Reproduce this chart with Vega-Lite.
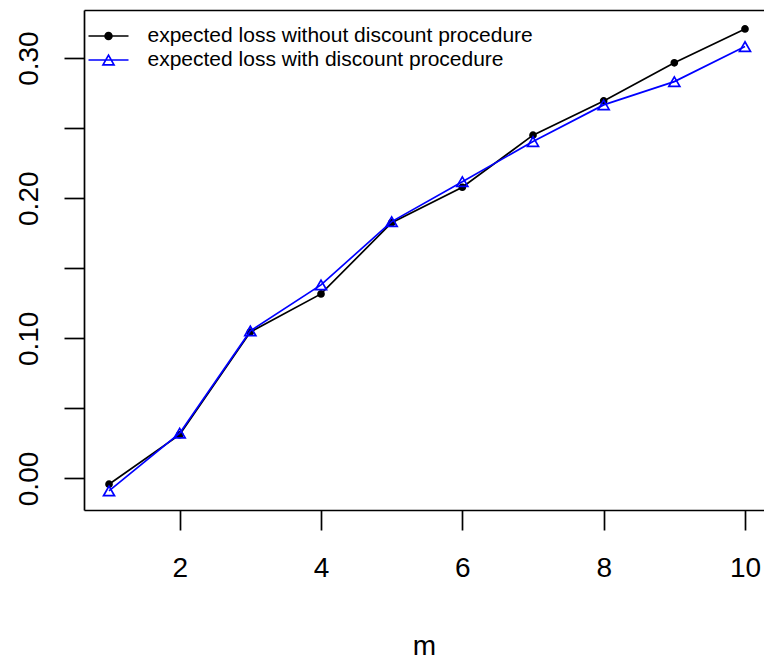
{
  "$schema": "https://vega.github.io/schema/vega-lite/v6.json",
  "width": 680,
  "height": 500,
  "autosize": {"type": "none"},
  "padding": {"left": 84, "top": 10, "right": 0, "bottom": 152},
  "background": "white",
  "config": {
    "view": {"stroke": null},
    "axis": {
      "grid": false,
      "domainColor": "#000000",
      "domainWidth": 1.7,
      "tickColor": "#000000",
      "tickWidth": 1.7,
      "tickSize": 20,
      "labelFont": "Liberation Sans",
      "labelFontSize": 28,
      "labelColor": "#000000",
      "titleFont": "Liberation Sans",
      "titleFontSize": 28,
      "titleFontWeight": "normal",
      "titleColor": "#000000"
    }
  },
  "data": {
    "values": [
      {"m": 1, "series": "expected loss without discount procedure", "loss": -0.0041},
      {"m": 2, "series": "expected loss without discount procedure", "loss": 0.0312},
      {"m": 3, "series": "expected loss without discount procedure", "loss": 0.1045},
      {"m": 4, "series": "expected loss without discount procedure", "loss": 0.1317},
      {"m": 5, "series": "expected loss without discount procedure", "loss": 0.1825},
      {"m": 6, "series": "expected loss without discount procedure", "loss": 0.2078},
      {"m": 7, "series": "expected loss without discount procedure", "loss": 0.245},
      {"m": 8, "series": "expected loss without discount procedure", "loss": 0.2694},
      {"m": 9, "series": "expected loss without discount procedure", "loss": 0.2966},
      {"m": 10, "series": "expected loss without discount procedure", "loss": 0.3208},
      {"m": 1, "series": "expected loss with discount procedure", "loss": -0.0089},
      {"m": 2, "series": "expected loss with discount procedure", "loss": 0.0323},
      {"m": 3, "series": "expected loss with discount procedure", "loss": 0.1053},
      {"m": 4, "series": "expected loss with discount procedure", "loss": 0.1381},
      {"m": 5, "series": "expected loss with discount procedure", "loss": 0.1833},
      {"m": 6, "series": "expected loss with discount procedure", "loss": 0.2118},
      {"m": 7, "series": "expected loss with discount procedure", "loss": 0.2404},
      {"m": 8, "series": "expected loss with discount procedure", "loss": 0.2666},
      {"m": 9, "series": "expected loss with discount procedure", "loss": 0.2832},
      {"m": 10, "series": "expected loss with discount procedure", "loss": 0.3082}
    ]
  },
  "encoding": {
    "x": {
      "field": "m",
      "type": "quantitative",
      "scale": {"domain": [0.646, 10.269], "nice": false, "zero": false},
      "axis": {
        "orient": "bottom",
        "values": [2, 4, 6, 8, 10],
        "title": "m",
        "labelPadding": 24,
        "titlePadding": 50,
        "labelFlush": false,
        "labelOverlap": false
      }
    },
    "y": {
      "field": "loss",
      "type": "quantitative",
      "scale": {"domain": [-0.0225, 0.3343], "nice": false, "zero": false},
      "axis": {
        "title": null,
        "values": [0, 0.05, 0.1, 0.15, 0.2, 0.25, 0.3],
        "labelExpr": "round(datum.value*20) % 2 == 0 ? format(datum.value, '.2f') : ''",
        "labelAngle": 270,
        "labelAlign": "center",
        "labelBaseline": "alphabetic",
        "labelPadding": 27,
        "labelFlush": false,
        "labelOverlap": false
      }
    },
    "color": {
      "field": "series",
      "type": "nominal",
      "scale": {
        "domain": ["expected loss without discount procedure", "expected loss with discount procedure"],
        "range": ["#000000", "#0000ff"]
      },
      "legend": {
        "orient": "none",
        "legendX": 3.5,
        "legendY": 14,
        "title": null,
        "padding": 0,
        "rowPadding": 0,
        "clipHeight": 24,
        "symbolSize": 1600,
        "symbolStrokeWidth": 1.7,
        "labelFont": "Liberation Sans",
        "labelFontSize": 21,
        "labelColor": "#000000",
        "labelOffset": 18,
        "labelLimit": 0,
        "encode": {
          "symbols": {
            "update": {
              "shape": {"signal": "datum.value === 'expected loss without discount procedure' ? 'M-1,0L1,0M0.17,0A0.17,0.17,0,1,1,-0.17,0A0.17,0.17,0,1,1,0.17,0Z' : 'M-1,0L1,0M0,-0.24L0.275,0.24L-0.275,0.24Z'"},
              "fill": {"signal": "datum.value === 'expected loss without discount procedure' ? '#000000' : 'transparent'"},
              "stroke": {"signal": "datum.value === 'expected loss without discount procedure' ? '#000000' : '#0000ff'"},
              "fillOpacity": {"signal": "datum.value === 'expected loss without discount procedure' ? 1 : 0"},
              "strokeWidth": {"value": 1.7},
              "size": {"value": 1600},
              "opacity": {"value": 1},
              "strokeOpacity": {"value": 1}
            }
          }
        }
      }
    }
  },
  "layer": [
    {
      "transform": [{"filter": "datum.series === 'expected loss without discount procedure'"}],
      "mark": {"type": "line", "strokeWidth": 1.7}
    },
    {
      "transform": [{"filter": "datum.series === 'expected loss without discount procedure'"}],
      "mark": {"type": "point", "shape": "circle", "filled": true, "size": 36, "strokeWidth": 1.7, "opacity": 1},
      "encoding": {
        "x": {
          "field": "m",
          "type": "quantitative",
          "scale": {"domain": [0.646, 10.269], "nice": false, "zero": false},
          "axis": {"orient": "top", "labels": false, "ticks": false, "title": null, "domain": true}
        },
        "stroke": {"value": "#000000"}
      }
    },
    {
      "transform": [{"filter": "datum.series === 'expected loss with discount procedure'"}],
      "mark": {"type": "line", "strokeWidth": 1.7},
      "encoding": {
        "x": {
          "field": "m",
          "type": "quantitative",
          "scale": {"domain": [0.646, 10.269], "nice": false, "zero": false},
          "axis": null
        }
      }
    },
    {
      "transform": [{"filter": "datum.series === 'expected loss with discount procedure'"}],
      "mark": {"type": "point", "shape": "triangle-up", "filled": false, "size": 121, "strokeWidth": 1.7, "opacity": 1},
      "encoding": {
        "x": {
          "field": "m",
          "type": "quantitative",
          "scale": {"domain": [0.646, 10.269], "nice": false, "zero": false},
          "axis": null
        }
      }
    }
  ],
  "resolve": {"axis": {"x": "independent"}}
}
